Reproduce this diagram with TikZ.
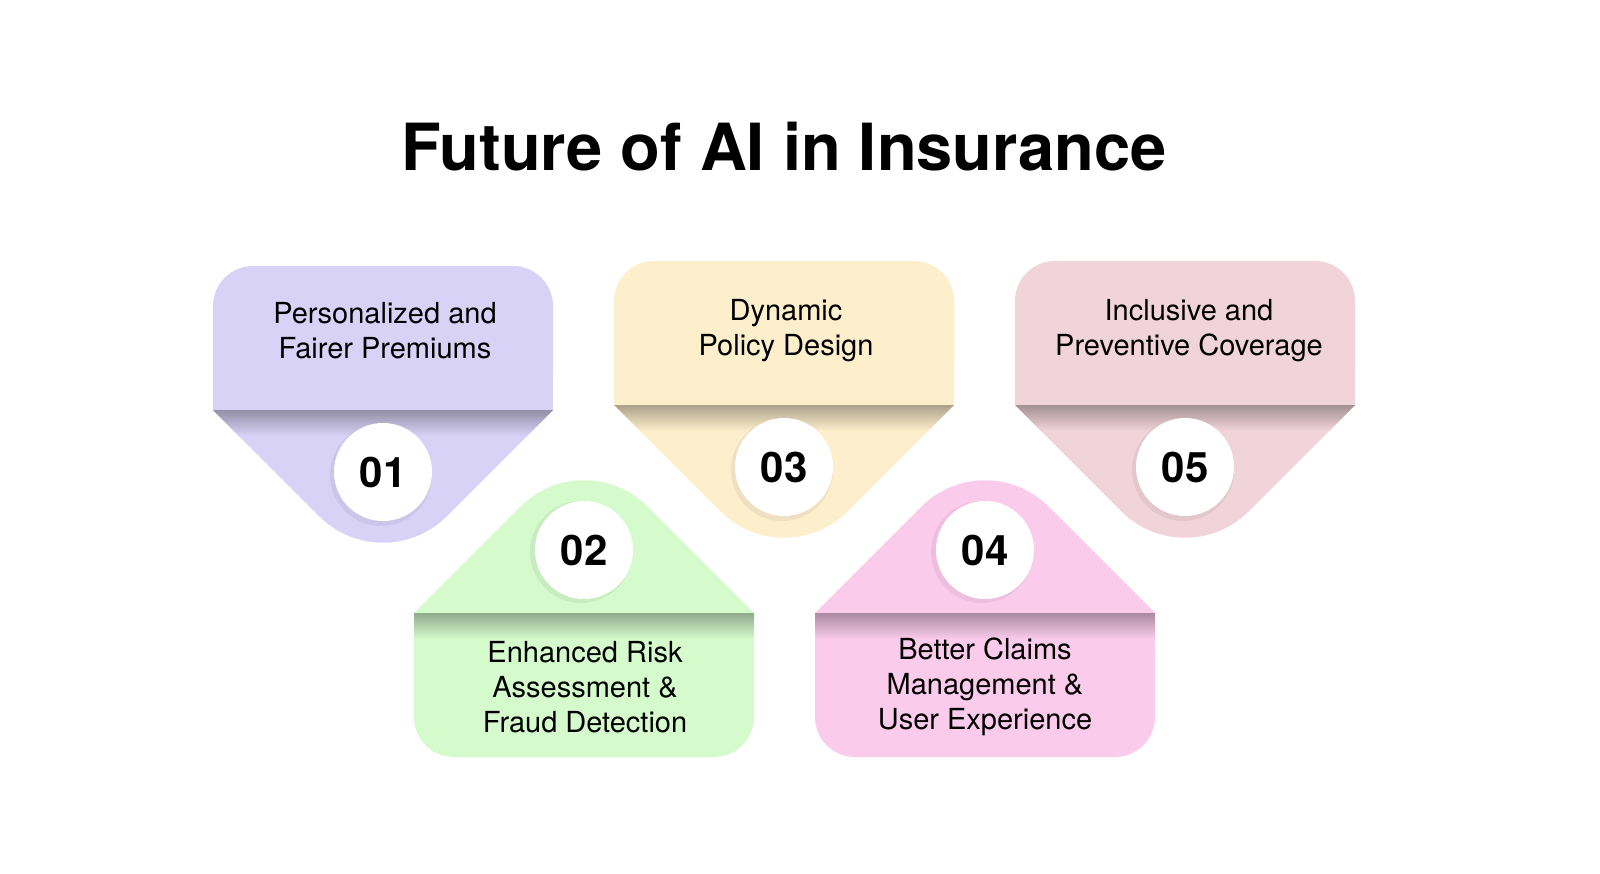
\documentclass[tikz,border=0pt]{standalone}
\usepackage{fontspec}
\setmainfont{TeX Gyre Heros}
\definecolor{lilac}{HTML}{D8D3F6}
\definecolor{sand}{HTML}{FDEFCC}
\definecolor{blush}{HTML}{F1D4D9}
\definecolor{mint}{HTML}{D5FBCD}
\definecolor{candy}{HTML}{FBCBEC}
\newcommand{\TopCard}[3]{%
\fill[#3,rounded corners=20pt] (#1,-#2) rectangle ++(340,-144);
\fill[#3] (#1,-#2-60) rectangle ++(340,-84);
\fill[#3] (#1,-#2-144) -- (#1+106.36,-#2-250.36) arc[start angle=225,end angle=315,radius=45pt] -- (#1+340,-#2-144) -- cycle;
\begin{scope}
\clip (#1,-#2-144) -- (#1+170,-#2-314) -- (#1+340,-#2-144) -- cycle;
\shade[top color=#3!68!black,bottom color=#3] (#1,-#2-144) rectangle ++(340,-26);
\end{scope}
\fill[black,opacity=.06] (#1+168,-#2-209) circle (25.5pt);}
\newcommand{\LowCard}[3]{%
\fill[#3,rounded corners=20pt] (#1,-#2) rectangle ++(340,-144);
\fill[#3] (#1,-#2) rectangle ++(340,-80);
\fill[#3] (#1,-#2) -- (#1+106.36,-#2+106.36) arc[start angle=135,end angle=45,radius=45pt] -- (#1+340,-#2) -- cycle;
\shade[top color=#3!68!black,bottom color=#3] (#1,-#2) rectangle ++(340,-26);
\fill[black,opacity=.06] (#1+167,-#2+61) circle (25.5pt);}
\tikzset{
  cardtext/.style={align=center,font=\fontsize{14.5}{17.5}\selectfont},
  numdisc/.style={circle,fill=white,minimum size=49pt,inner sep=0pt,font=\bfseries\fontsize{21}{25}\selectfont}
}
\begin{document}
\begin{tikzpicture}[x=0.5pt,y=0.5pt]
\useasboundingbox[fill=white] (0,0) rectangle (1600,-873);
\node[anchor=base,font=\bfseries\fontsize{32.5}{39}\selectfont] (title) at (784,-170) {Future of AI in Insurance};

\TopCard{213}{266}{lilac}
\TopCard{614}{261}{sand}
\TopCard{1015}{261}{blush}
\LowCard{414}{613}{mint}
\LowCard{815}{613}{candy}

\node[numdisc] (num-1) at (383,-472) {01};
\node[numdisc] (num-2) at (584,-550) {02};
\node[numdisc] (num-3) at (784,-467) {03};
\node[numdisc] (num-4) at (985,-550) {04};
\node[numdisc] (num-5) at (1185,-467) {05};

\node[cardtext] (text-1) at (385,-331) {Personalized and\\Fairer Premiums};
\node[cardtext] (text-3) at (786,-331) {Dynamic\\Policy Design};
\node[cardtext] (text-5) at (1189,-331) {Inclusive and\\Preventive Coverage};
\node[cardtext] (text-2) at (585,-687) {Enhanced Risk\\Assessment \&\\Fraud Detection};
\node[cardtext] (text-4) at (985,-687) {Better Claims\\Management \&\\User Experience};
\end{tikzpicture}
\end{document}
